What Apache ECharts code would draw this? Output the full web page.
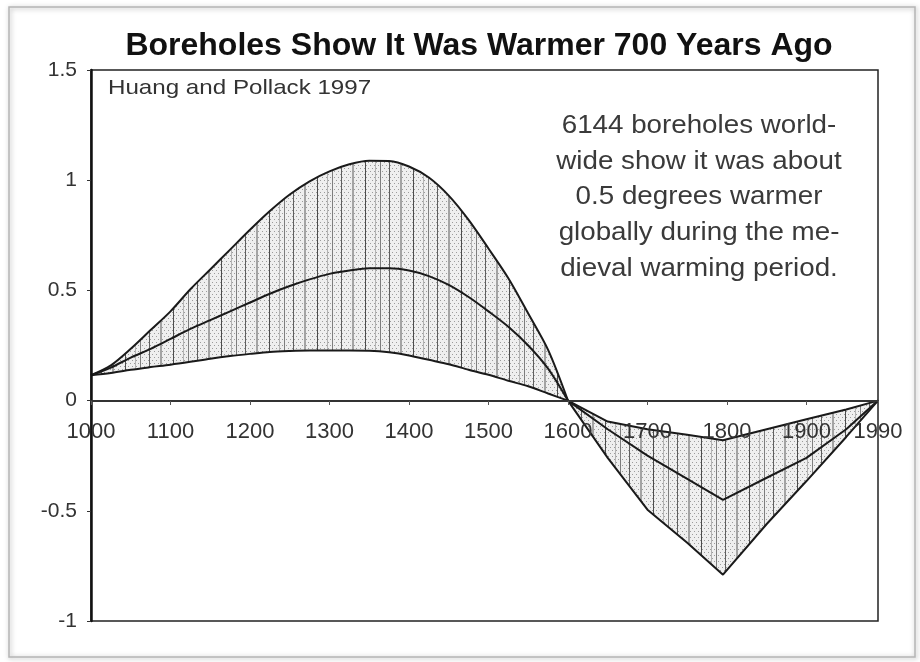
<!DOCTYPE html>
<html><head><meta charset="utf-8">
<script src="https://cdn.jsdelivr.net/npm/echarts@6/dist/echarts.min.js"></script>
<style>html,body{margin:0;padding:0;background:#fff}#c{width:920px;height:662px}</style>
</head><body><div id="c"></div>
<script>
// ---- data ----
const yearsWarm = [1000,1025,1050,1075,1100,1125,1150,1175,1200,1225,1250,1275,1300,1325,1350,1375,1400,1425,1450,1475,1500,1525,1550,1575,1600];
const upperWarm  = [0.115,0.16,0.235,0.32,0.405,0.505,0.595,0.685,0.775,0.86,0.935,0.995,1.04,1.072,1.088,1.087,1.062,1.012,0.93,0.82,0.69,0.555,0.395,0.23,0.0];
const middleWarm = [0.115,0.15,0.195,0.235,0.28,0.325,0.365,0.405,0.445,0.485,0.52,0.55,0.575,0.59,0.60,0.60,0.59,0.565,0.525,0.47,0.405,0.335,0.25,0.145,0.0];
const lowerWarm  = [0.115,0.125,0.14,0.152,0.163,0.176,0.19,0.202,0.212,0.221,0.225,0.227,0.227,0.227,0.226,0.219,0.205,0.185,0.165,0.14,0.117,0.09,0.065,0.032,0.0];

const yearsCool  = [1600,1650,1700,1750,1795,1850,1900,1950,1990];
const upperCool  = [0.0,-0.095,-0.13,-0.155,-0.18,-0.13,-0.085,-0.04,0.0];
const middleCool = [0.0,-0.13,-0.25,-0.355,-0.45,-0.35,-0.26,-0.13,0.0];
const lowerCool  = [0.0,-0.26,-0.495,-0.645,-0.79,-0.56,-0.365,-0.165,0.0];

const xTickLabels = [1000,1100,1200,1300,1400,1500,1600,1700,1800,1900,1990];
const yMin = -1, yMax = 1.5, yStep = 0.5;

const titleText = 'Boreholes Show It Was Warmer 700 Years Ago';
const sourceText = 'Huang and Pollack 1997';
const noteText = '6144 boreholes world-\nwide show it was about\n0.5 degrees warmer\nglobally during the me-\ndieval warming period.';

// ---- stipple texture for the band ----
function makePattern(){
  const w = 48, h = 12;
  const c = document.createElement('canvas');
  c.width = w; c.height = h;
  const g = c.getContext('2d');
  g.fillStyle = '#efefef'; g.fillRect(0,0,w,h);
  // stippled dots, staggered
  g.fillStyle = '#9c9c9c';
  for (let y = 0; y < h; y += 3) {
    for (let x = (y % 6 === 0 ? 0 : 2); x < w; x += 4) g.fillRect(x, y, 1, 1);
  }
  // vertical streaks of varying weight
  g.fillStyle = '#5f5f5f'; g.fillRect(5, 0, 1, h);
  g.fillStyle = '#a4a4a4'; g.fillRect(16, 0, 2, h);
  g.fillStyle = '#4c4c4c'; g.fillRect(29, 0, 1, h);
  g.fillStyle = '#b4b4b4'; g.fillRect(39, 0, 1, h);
  g.fillStyle = '#7e7e7e'; g.fillRect(44, 0, 1, h);
  return c;
}
const pat = {image: makePattern(), repeat: 'repeat'};

const bands = [
  {xs: yearsWarm, hi: upperWarm, lo: lowerWarm},
  {xs: yearsCool, hi: upperCool, lo: lowerCool}
];

const pairs = (xs, ys) => xs.map((x,i)=>[x, ys[i]]);
const lineStyle = {color:'#1a1a1a', width:2};
function curve(name, xs, ys, smooth){
  return {name, type:'line', data: pairs(xs, ys), smooth, symbol:'none', lineStyle, z:5, silent:true};
}

const chart = echarts.init(document.getElementById('c'), null, {renderer:'canvas'});
chart.setOption({
  animation:false,
  backgroundColor:'#ffffff',
  title:{text:titleText, left:479, top:30, textAlign:'center', padding:0,
         textStyle:{fontFamily:'Liberation Sans', fontWeight:'bold', fontSize:32, color:'#111'}},
  grid:{left:91, right:42, top:70, bottom:41, show:true, borderColor:'#222', borderWidth:1.5,
        backgroundColor:'transparent', outerBoundsMode:'none'},
  xAxis:{type:'value', min:1000, max:1990, offset:-220, z:8,
    axisLine:{onZero:false, lineStyle:{color:'#333', width:2}},
    axisTick:{show:true, length:4, customValues:xTickLabels, lineStyle:{color:'#555'}},
    axisLabel:{customValues:xTickLabels, formatter:v=>String(v), margin:20,
               fontFamily:'Liberation Sans', fontSize:22, color:'#333'},
    splitLine:{show:false}},
  yAxis:{type:'value', min:yMin, max:yMax, interval:yStep, z:8,
    axisLine:{show:true, onZero:false, lineStyle:{color:'#111', width:2.5}},
    axisTick:{show:true, length:4, lineStyle:{color:'#333'}},
    axisLabel:{formatter:v=>String(v), margin:14, fontFamily:'Liberation Sans', fontSize:21, color:'#333'},
    splitLine:{show:false}},
  graphic:[
    {type:'rect', shape:{x:9, y:7, width:906, height:650}, z:-10, silent:true,
     style:{fill:'none', stroke:'#b5b5b5', lineWidth:1.5, shadowBlur:5, shadowColor:'rgba(0,0,0,0.35)', shadowOffsetX:1, shadowOffsetY:1}},
    {type:'text', x:108, y:88, scaleX:1.15, z:10,
     style:{text:sourceText, fontFamily:'Liberation Sans', fontSize:21, fill:'#333', textAlign:'left', textVerticalAlign:'middle'}},
    {type:'text', x:699, y:108.5, scaleX:1.11, z:10,
     style:{text:noteText, fontFamily:'Liberation Sans', fontSize:25, lineHeight:35.6, fill:'#3a3a3a', textAlign:'center', textVerticalAlign:'top'}}
  ],
  series:[
    {name:'Range', type:'custom', silent:true, z:2,
     data: bands.map((b,i)=>[b.xs[0], 0, i]),
     encode:{x:0, y:1},
     renderItem:(params, api)=>{
       const b = bands[params.dataIndex];
       const top = b.xs.map((x,i)=>api.coord([x, b.hi[i]]));
       const bot = b.xs.map((x,i)=>api.coord([x, b.lo[i]])).reverse();
       return {type:'polygon', shape:{points: top.concat(bot)}, style:{fill: pat, stroke:null}};
     }},
    curve('Upper bound (warm)', yearsWarm, upperWarm, 0.3),
    curve('Mean (warm)', yearsWarm, middleWarm, 0.3),
    curve('Lower bound (warm)', yearsWarm, lowerWarm, 0.3),
    curve('Upper bound (cool)', yearsCool, upperCool, false),
    curve('Mean (cool)', yearsCool, middleCool, false),
    curve('Lower bound (cool)', yearsCool, lowerCool, false)
  ]
});
</script></body></html>
